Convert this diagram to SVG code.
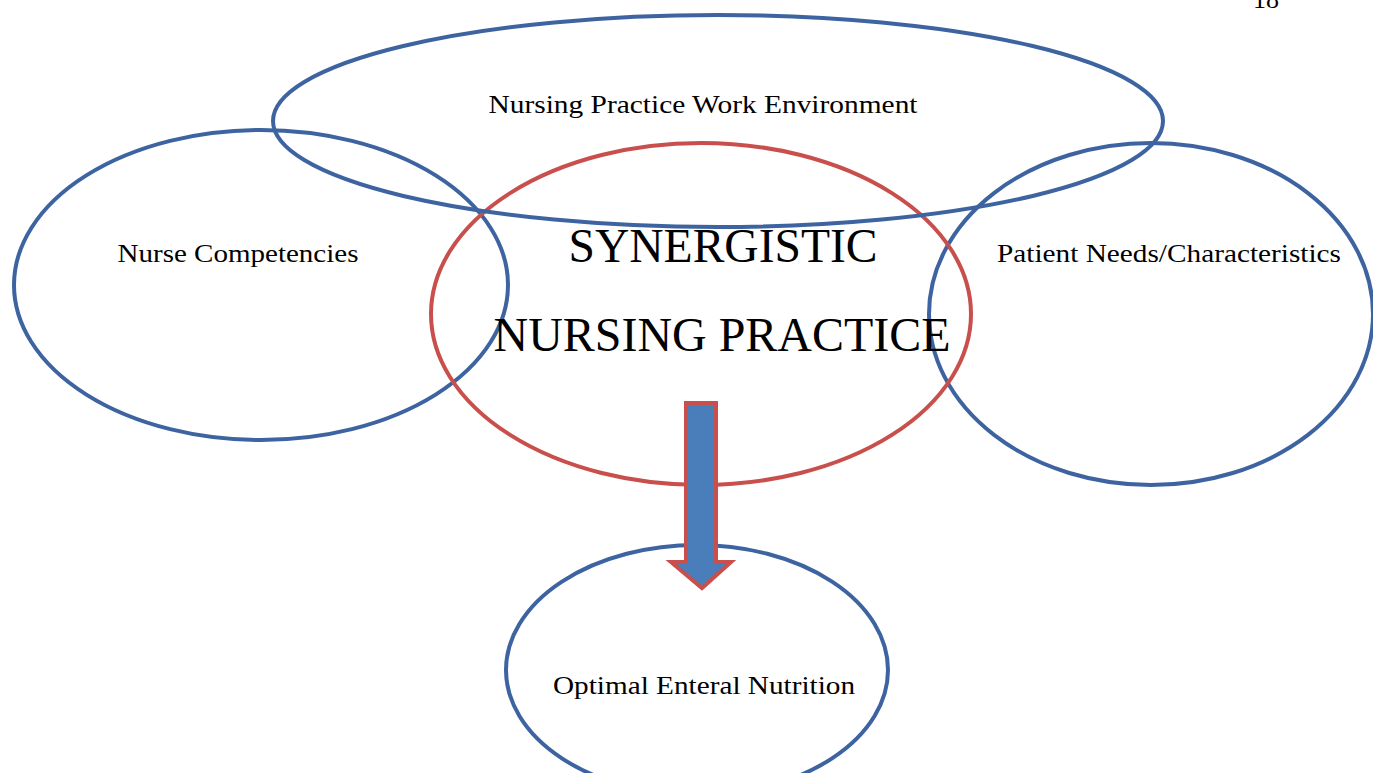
<svg xmlns="http://www.w3.org/2000/svg" width="1373" height="773" viewBox="0 0 1373 773">
<style>
.blue{fill:none;stroke:#3d64a0;stroke-width:4}
.red{fill:none;stroke:#c84f4c;stroke-width:4}
.lbl{font-family:"Liberation Serif",serif;font-size:26px;fill:#000;text-anchor:middle}
.big{font-family:"Liberation Serif",serif;font-size:48px;fill:#000;text-anchor:middle}
</style>
<rect width="1373" height="773" fill="#fff"/>
<text x="1266" y="8" class="lbl">18</text>
<g id="competencies"><ellipse class="blue" cx="261" cy="285" rx="247" ry="155"/><text class="lbl" x="238" y="262" textLength="241" lengthAdjust="spacingAndGlyphs">Nurse Competencies</text></g>
<g id="patient"><ellipse class="blue" cx="1151" cy="314" rx="222" ry="171"/><text class="lbl" x="1169" y="262" textLength="344" lengthAdjust="spacingAndGlyphs">Patient Needs/Characteristics</text></g>
<g id="synergistic"><ellipse class="red" cx="701" cy="314" rx="270" ry="171"/><text class="big" x="723" y="262" textLength="309" lengthAdjust="spacingAndGlyphs">SYNERGISTIC</text><text class="big" x="722" y="351" textLength="457" lengthAdjust="spacingAndGlyphs">NURSING PRACTICE</text></g>
<g id="environment"><ellipse class="blue" cx="718" cy="121" rx="445" ry="106"/><text class="lbl" x="703" y="113" textLength="429" lengthAdjust="spacingAndGlyphs">Nursing Practice Work Environment</text></g>
<g id="outcome"><ellipse class="blue" cx="697" cy="670" rx="191" ry="125"/><text class="lbl" x="704" y="694" textLength="302" lengthAdjust="spacingAndGlyphs">Optimal Enteral Nutrition</text></g>
<g id="connectors"><path d="M686,403 H716 V562 H731 L702,588 L671,562 H686 Z" fill="#4a7ebb" stroke="#c84f4c" stroke-width="4"/></g>
</svg>
